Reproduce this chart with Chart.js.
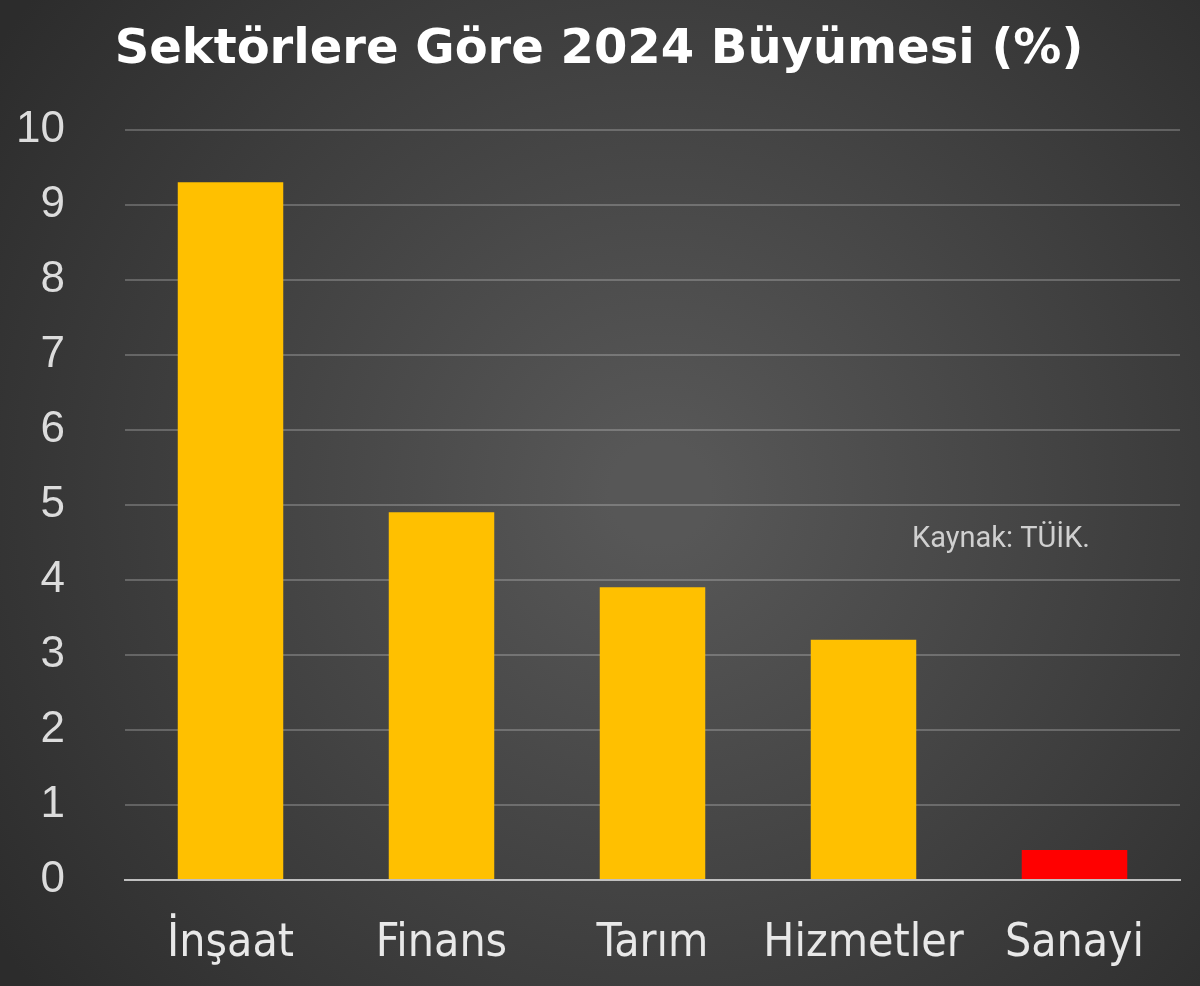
<!DOCTYPE html>
<html>
<head>
<meta charset="utf-8">
<script src="https://cdn.jsdelivr.net/npm/chart.js@4"></script>
<style>
  html, body { margin: 0; padding: 0; background: #3a3a3a; }
  #wrap { width: 1200px; height: 986px; }
</style>
</head>
<body>
<div id="wrap"><canvas id="chart"></canvas></div>
<script>
const title = "Sektörlere Göre 2024 Büyümesi (%)"
const sectors = ["İnşaat", "Finans", "Tarım", "Hizmetler", "Sanayi"]
const growth = [9.3, 4.9, 3.9, 3.2, 0.4]
const barColors = ["#FFC000", "#FFC000", "#FFC000", "#FFC000", "#FF0000"]
const sourceNote = "Kaynak: TÜİK."

// dark radial background, lighter in the middle
const bgPlugin = {
    id: 'bg',
    beforeDraw(chart) {
        const ctx = chart.ctx
        const w = chart.width, h = chart.height
        const g = ctx.createRadialGradient(w * 0.55, h * 0.5, 50, w * 0.55, h * 0.5, 800)
        g.addColorStop(0, '#575757')
        g.addColorStop(1, '#2c2c2c')
        ctx.save()
        ctx.fillStyle = g
        ctx.fillRect(0, 0, w, h)
        ctx.restore()
    }
}

const notePlugin = {
    id: 'note',
    afterDraw(chart) {
        const ctx = chart.ctx
        const a = chart.chartArea
        ctx.save()
        ctx.font = '29px Roboto, "Noto Sans", sans-serif'
        ctx.fillStyle = '#d0d0d0'
        ctx.textAlign = 'right'
        ctx.textBaseline = 'middle'
        ctx.fillText(sourceNote, a.right - 90, 540)
        ctx.restore()
    }
}

const myChart = new Chart(document.getElementById('chart').getContext('2d'), {
    type: 'bar',
    data: {
        labels: sectors,
        datasets: [{
            data: growth,
            backgroundColor: barColors,
            barPercentage: 0.5,
            categoryPercentage: 1
        }]
    },
    options: {
        responsive: true,
        maintainAspectRatio: false,
        animation: false,
        devicePixelRatio: 1,
        layout: {padding: {left: 18, right: 20, top: 22, bottom: 14}},
        plugins: {
            legend: {display: false},
            tooltip: {enabled: false},
            title: {
                display: true,
                text: title,
                color: '#ffffff',
                font: {family: '"DejaVu Sans"', size: 48, weight: 'bold'},
                padding: {top: 0, bottom: 50}
            }
        },
        scales: {
            y: {
                min: 0,
                max: 10,
                ticks: {
                    stepSize: 1,
                    color: '#dcdcdc',
                    font: {family: '"Liberation Sans", Arial, sans-serif', size: 44},
                    padding: 60
                },
                grid: {color: 'rgba(255,255,255,0.22)', lineWidth: 2, drawTicks: false},
                border: {display: false},
                afterFit(scale) { scale.width = 107 }
            },
            x: {
                ticks: {
                    color: '#e8e8e8',
                    font: {family: '"Liberation Sans Narrow", "DejaVu Sans Condensed", sans-serif', size: 46},
                    padding: 36
                },
                grid: {display: false, drawTicks: false},
                border: {display: true, color: '#c0c0c0', width: 2},
                afterFit(scale) { scale.height = 92 }
            }
        }
    },
    plugins: [bgPlugin, notePlugin]
})
</script>
</body>
</html>
